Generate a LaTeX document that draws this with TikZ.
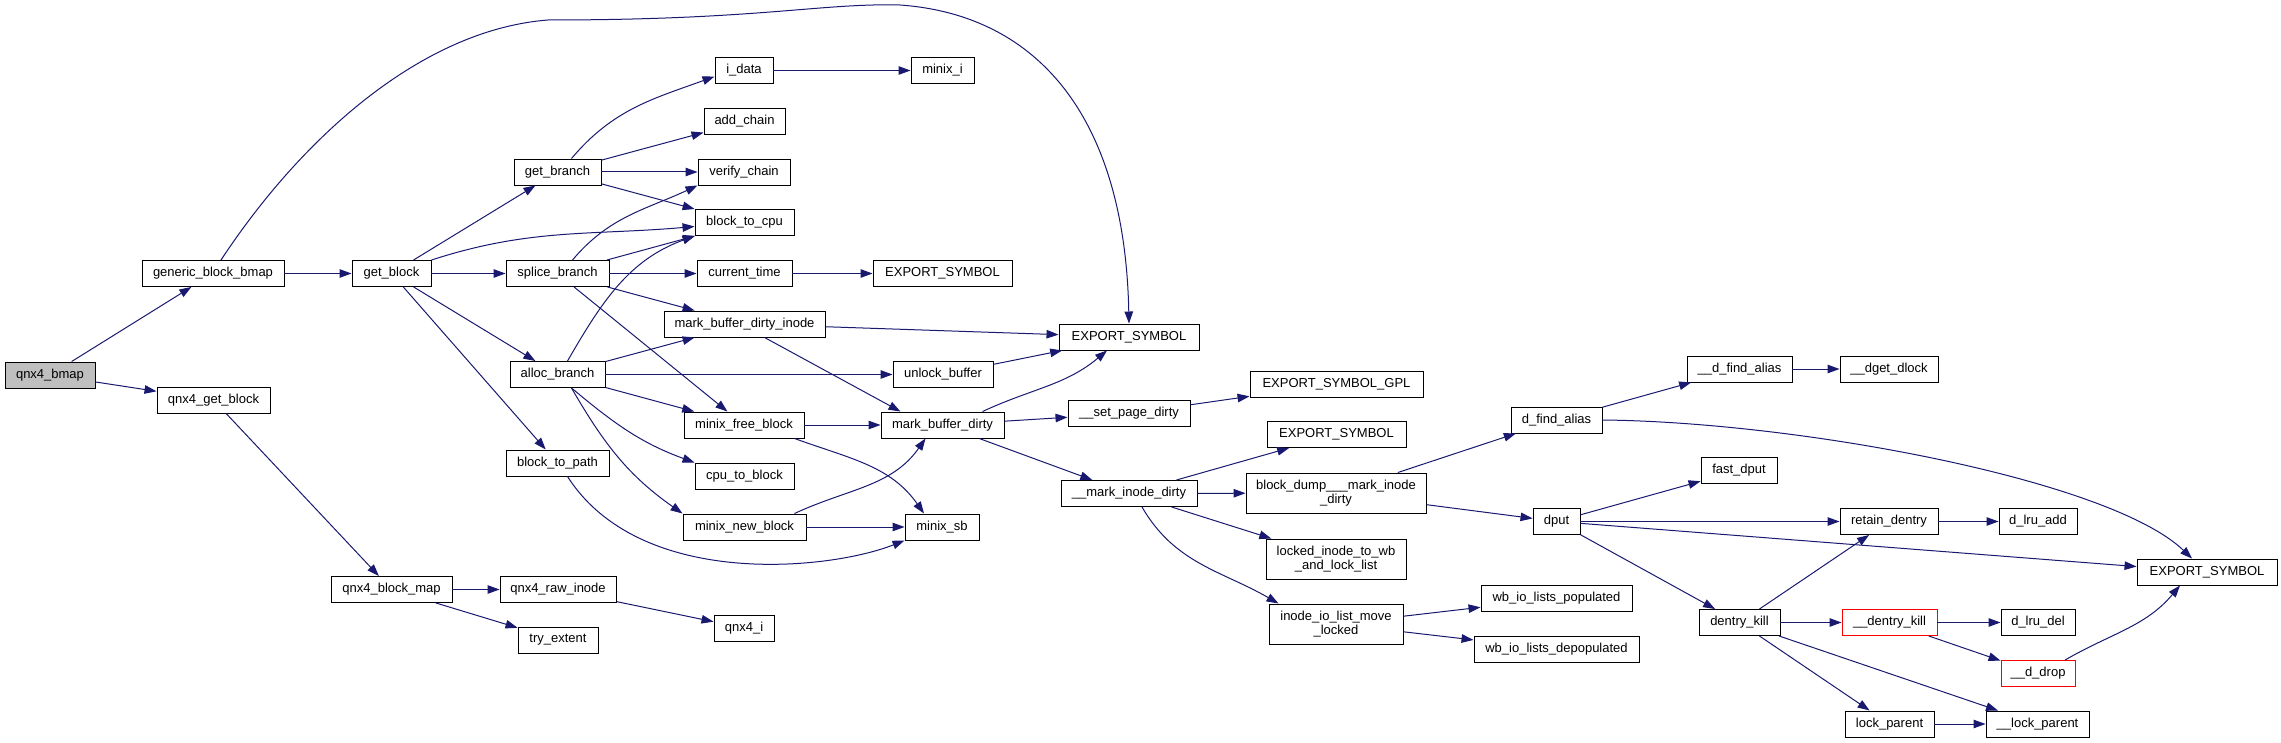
\documentclass[tikz,border=0pt]{standalone}
\usepackage{fontspec}
\setmainfont{Liberation Sans}
\usetikzlibrary{arrows.meta}

\definecolor{edgeblue}{HTML}{191970}
\definecolor{rootgray}{HTML}{BFBFBF}

\tikzset{
    fn/.style={draw=black, line width=0.95pt, fill=white, inner xsep=2pt, inner ysep=0pt,
        minimum height=26pt, align=center,
        font=\fontsize{13}{14.5}\selectfont},
    root/.style={fill=rootgray},
    trunc/.style={draw=red},
    tall/.style={minimum height=40pt},
    call/.style={draw=edgeblue, line width=1pt, -{Triangle[length=12pt,width=8.5pt]}}
}

\begin{document}
\begin{tikzpicture}[x=1pt, y=1pt]

    \useasboundingbox (0,0) rectangle (2281,-743);

    % caller and first level
    \node[fn, root, minimum width=90pt]  (qnx4bmap)    at (50,-375)     {qnx4\_bmap};
    \node[fn, minimum width=142pt]       (generic)     at (213,-273.5)  {generic\_block\_bmap};
    \node[fn, minimum width=113pt]       (qnxgetblock) at (213.5,-400)  {qnx4\_get\_block};
    \node[fn, minimum width=79pt]        (getblock)    at (391.5,-273.5) {get\_block};

    % get_block callees
    \node[fn, minimum width=87pt]  (getbranch)   at (557.5,-172)   {get\_branch};
    \node[fn, minimum width=103pt] (splice)      at (557.5,-273.5) {splice\_branch};
    \node[fn, minimum width=95pt]  (alloc)       at (557.5,-374.5) {alloc\_branch};
    \node[fn, minimum width=103pt] (blocktopath) at (557.5,-463)   {block\_to\_path};

    \node[fn, minimum width=58pt]  (idata)      at (744,-70.5)    {i\_data};
    \node[fn, minimum width=81pt]  (addchain)   at (744.5,-121.5) {add\_chain};
    \node[fn, minimum width=92pt]  (verify)     at (744,-172)     {verify\_chain};
    \node[fn, minimum width=99pt]  (blocktocpu) at (744.5,-222.5) {block\_to\_cpu};
    \node[fn, minimum width=95pt]  (curtime)    at (744.5,-273.5) {current\_time};
    \node[fn, minimum width=161pt] (mbdi)       at (744.5,-324)   {mark\_buffer\_dirty\_inode};
    \node[fn, minimum width=120pt] (freeblock)  at (744,-425)     {minix\_free\_block};
    \node[fn, minimum width=99pt]  (cputoblock) at (744.5,-476)   {cpu\_to\_block};
    \node[fn, minimum width=123pt] (newblock)   at (744.5,-527)   {minix\_new\_block};

    \node[fn, minimum width=63pt]  (minixi)  at (942.5,-70.5)  {minix\_i};
    \node[fn, minimum width=139pt] (expct)   at (942.5,-273.5) {EXPORT\_SYMBOL};
    \node[fn, minimum width=140pt] (expmain) at (1129,-337)    {EXPORT\_SYMBOL};
    \node[fn, minimum width=100pt] (unlock)  at (943,-374.5)   {unlock\_buffer};
    \node[fn, minimum width=123pt] (mbd)     at (942.5,-425)   {mark\_buffer\_dirty};
    \node[fn, minimum width=74pt]  (minixsb) at (942,-527)     {minix\_sb};

    % qnx4 block map
    \node[fn, minimum width=121pt] (blockmap)  at (391.5,-589.5) {qnx4\_block\_map};
    \node[fn, minimum width=116pt] (rawinode)  at (558,-589.5)   {qnx4\_raw\_inode};
    \node[fn, minimum width=80pt]  (tryextent) at (558,-640)     {try\_extent};
    \node[fn, minimum width=60pt]  (qnxi)      at (744,-628)     {qnx4\_i};

    % mark_buffer_dirty callees
    \node[fn, minimum width=122pt] (setpage)   at (1129,-413.5) {\_\_set\_page\_dirty};
    \node[fn, minimum width=136pt] (markinode) at (1129,-493.5) {\_\_mark\_inode\_dirty};
    \node[fn, minimum width=173pt] (expgpl)    at (1336.5,-384) {EXPORT\_SYMBOL\_GPL};
    \node[fn, minimum width=139pt] (expmid)    at (1336.5,-434.5) {EXPORT\_SYMBOL};
    \node[fn, tall, minimum width=180pt] (blockdump)   at (1336,-493) {block\_dump\_\_\_mark\_inode\\\_dirty};
    \node[fn, tall, minimum width=140pt] (lockedinode) at (1336,-559) {locked\_inode\_to\_wb\\\_and\_lock\_list};
    \node[fn, tall, minimum width=134pt] (iolist)      at (1336,-624) {inode\_io\_list\_move\\\_locked};
    \node[fn, minimum width=151pt] (wbpop)   at (1556.5,-598.5) {wb\_io\_lists\_populated};
    \node[fn, minimum width=165pt] (wbdepop) at (1556.5,-649.5) {wb\_io\_lists\_depopulated};

    % dentry side
    \node[fn, minimum width=91pt]  (dfind)    at (1556.5,-420)   {d\_find\_alias};
    \node[fn, minimum width=105pt] (ddfind)   at (1739.5,-369)   {\_\_d\_find\_alias};
    \node[fn, minimum width=98pt]  (dget)     at (1889,-369)     {\_\_dget\_dlock};
    \node[fn, minimum width=76pt]  (fastdput) at (1739,-470.5)   {fast\_dput};
    \node[fn, minimum width=47pt]  (dput)     at (1556.5,-521.5) {dput};
    \node[fn, minimum width=98pt]  (retain)   at (1889,-521.5)   {retain\_dentry};
    \node[fn, minimum width=78pt]  (lruadd)   at (2038,-521.5)   {d\_lru\_add};
    \node[fn, minimum width=140pt] (expright) at (2207,-572)     {EXPORT\_SYMBOL};
    \node[fn, minimum width=81pt]  (dkill)    at (1739.5,-622.5) {dentry\_kill};
    \node[fn, trunc, minimum width=95pt] (ddkill) at (1889.5,-622.5) {\_\_dentry\_kill};
    \node[fn, minimum width=74pt]  (lrudel)   at (2038,-622.5)   {d\_lru\_del};
    \node[fn, trunc, minimum width=74pt] (ddrop) at (2038,-673.5) {\_\_d\_drop};
    \node[fn, minimum width=89pt]  (lockp)    at (1889.5,-724)   {lock\_parent};
    \node[fn, minimum width=103pt] (llockp)   at (2037.5,-724)   {\_\_lock\_parent};

    % straight calls
    \foreach \a/\b in {qnx4bmap/generic, qnx4bmap/qnxgetblock, generic/getblock,
        getblock/getbranch, getblock/splice, getblock/alloc, getblock/blocktopath,
        getbranch/addchain, getbranch/verify, getbranch/blocktocpu, idata/minixi,
        splice/blocktocpu, splice/curtime, splice/mbdi, splice/freeblock,
        curtime/expct, alloc/mbdi, alloc/unlock, alloc/freeblock,
        mbdi/expmain, unlock/expmain, freeblock/mbd, newblock/minixsb,
        mbd/setpage, mbd/markinode, setpage/expgpl,
        markinode/expmid, markinode/blockdump, markinode/lockedinode,
        blockdump/dfind, blockdump/dput, iolist/wbpop, iolist/wbdepop,
        dfind/ddfind, ddfind/dget, dput/fastdput, dput/retain, dput/expright,
        dput/dkill, retain/lruadd, dkill/retain, dkill/ddkill, dkill/lockp,
        dkill/llockp, ddkill/lrudel, ddkill/ddrop, lockp/llockp,
        qnxgetblock/blockmap, blockmap/rawinode, blockmap/tryextent, rawinode/qnxi}
        \draw[call] (\a) -- (\b);

    \draw[call] ([xshift=20pt]mbdi.south) -- ([xshift=-42pt]mbd.north);

    % curved calls
    \draw[call] ([xshift=8pt]generic.north) .. controls (300,-140) and (420,-30) .. (548,-20)
        .. controls (760,-20) and (820,-3) .. (900,-5)
        .. controls (1040,-15) and (1125,-120) .. (expmain.north);
    \draw[call] ([xshift=10pt]blocktopath.south) .. controls (640,-590) and (830,-570) .. (minixsb.south west);
    \draw[call] ([xshift=14pt]getbranch.north) to[out=50, in=200] ([yshift=-6pt]idata.west);
    \draw[call] (getblock.north east) to[out=18, in=185] ([yshift=-4pt]blocktocpu.west);
    \draw[call] ([xshift=15pt]splice.north) to[out=50, in=205] (verify.south west);
    \draw[call] ([xshift=10pt]alloc.north) to[out=60, in=200] (blocktocpu.south west);
    \draw[call] ([xshift=14pt]alloc.south) to[out=-40, in=160] (cputoblock.north west);
    \draw[call] ([xshift=14pt]alloc.south) to[out=-60, in=145] (newblock.north west);
    \draw[call] ([xshift=-12pt]newblock.north east) to[out=25, in=-125] ([xshift=-17pt]mbd.south);
    \draw[call] ([xshift=-10pt]freeblock.south east) to[out=-20, in=125] ([xshift=-18pt]minixsb.north);
    \draw[call] ([xshift=40pt]mbd.north) to[out=25, in=-140] ([xshift=-22pt]expmain.south);
    \draw[call] ([xshift=13pt]markinode.south) to[out=-60, in=150] ([xshift=10pt]iolist.north west);
    \draw[call] (dfind.east) .. controls (1800,-422) and (2110,-480) .. ([xshift=-15pt]expright.north);
    \draw[call] ([xshift=27pt]ddrop.north) to[out=30, in=-130] ([xshift=-27pt]expright.south);

\end{tikzpicture}
\end{document}
